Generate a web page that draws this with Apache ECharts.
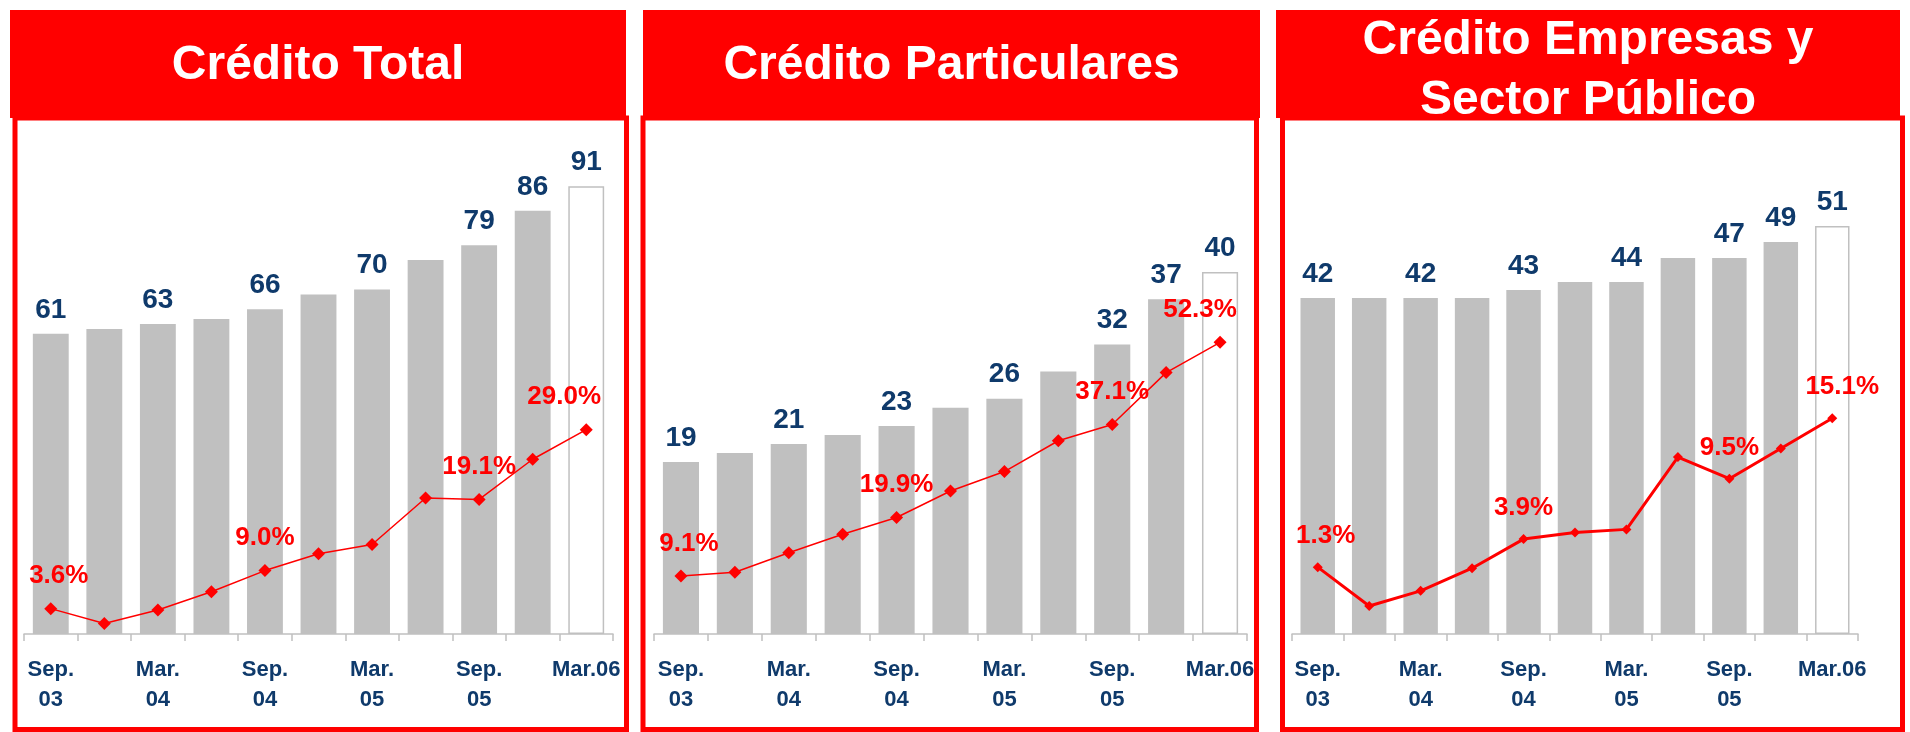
<!DOCTYPE html>
<html>
<head>
<meta charset="utf-8">
<script src="https://cdn.jsdelivr.net/npm/echarts@6/dist/echarts.min.js"></script>
<style>
    html, body { margin: 0; padding: 0; background: #fff; }
    #credit_chart { width: 1910px; height: 732px; }
</style>
</head>
<body>
<div id="credit_chart"></div>
<script>

// Data
var tickLabels = ['Sep.\n03', '', 'Mar.\n04', '', 'Sep.\n04', '', 'Mar.\n05', '', 'Sep.\n05', '', 'Mar.06'];
var panelTitles = ['Crédito Total', 'Crédito Particulares', 'Crédito Empresas y\nSector Público'];

var totalValues = [61, 62, 63, 64, 66, 69, 70, 76, 79, 86, 91];
var totalGrowth = [3.6, 1.5, 3.4, 6.0, 9.0, 11.4, 12.7, 19.3, 19.1, 24.8, 29.0];

var particularesValues = [19, 20, 21, 22, 23, 25, 26, 29, 32, 37, 40];
var particularesGrowth = [9.1, 9.8, 13.4, 16.8, 19.9, 24.8, 28.4, 34.1, 37.1, 46.7, 52.3];

var empresasValues = [42, 42, 42, 42, 43, 44, 44, 47, 47, 49, 51];
var empresasGrowth = [1.3, -2.3, -0.9, 1.2, 3.9, 4.5, 4.8, 11.5, 9.5, 12.3, 15.1];

// which bars / points carry a label
var labelledBars = [0, 2, 4, 6, 8, 9, 10];
var labelledPoints = [0, 4, 8, 10];

var EchartsCreditPanels = function() {

    var RED = '#ff0000';
    var NAVY = '#0f3a6b';
    var GREY = '#c0c0c0';
    var FONT = '"Liberation Sans", Arial, Helvetica, sans-serif';

    // layout of the three panels (pixels)
    var panels = [
        { title: panelTitles[0], values: totalValues, growth: totalGrowth,
          header: [10, 626], frame: [15, 626.5], grid: [24, 589], titleY: 66,
          barMax: 100.4, lineMin: 0, lineMax: 70.1, lineWidth: 1.5, symbolSize: 13, firstShift: 8, lastShift: -22 },
        { title: panelTitles[1], values: particularesValues, growth: particularesGrowth,
          header: [643, 1260], frame: [643, 1256.5], grid: [654, 593], titleY: 66,
          barMax: 54.6, lineMin: -1.63, lineMax: 89.7, lineWidth: 1.5, symbolSize: 13, firstShift: 8, lastShift: -20 },
        { title: panelTitles[2], values: empresasValues, growth: empresasGrowth,
          header: [1276, 1900], frame: [1282.5, 1902.5], grid: [1292, 566], titleY: 71,
          barMax: 61.75, lineMin: -4.9, lineMax: 40.9, lineWidth: 3, symbolSize: 10, firstShift: 8, lastShift: 10 }
    ];

    var _init = function(dom_id) {
        if (typeof echarts == 'undefined') {
            console.warn('Warning - echarts.min.js is not loaded.');
            return;
        }

        var element = document.getElementById(dom_id);
        if (!element) return;

        var chart = echarts.init(element);

        var grids = [], xAxes = [], yAxes = [], series = [], graphics = [];

        panels.forEach(function(p, i) {

            // frame + red header
            graphics.push({
                type: 'rect', z: 1,
                shape: { x: p.frame[0], y: 118, width: p.frame[1] - p.frame[0], height: 611.5 },
                style: { fill: null, stroke: RED, lineWidth: 5 }
            });
            graphics.push({
                type: 'rect', z: 2,
                shape: { x: p.header[0], y: 10, width: p.header[1] - p.header[0], height: 108 },
                style: { fill: RED }
            });
            graphics.push({
                type: 'text', z: 3,
                x: (p.header[0] + p.header[1]) / 2, y: p.titleY,
                style: {
                    text: p.title, fill: '#fff',
                    font: 'bold 48px ' + FONT, lineHeight: 60,
                    textAlign: 'center', textVerticalAlign: 'middle',
                    align: 'center', verticalAlign: 'middle'
                }
            });

            grids.push({ left: p.grid[0], width: p.grid[1], top: 140, height: 494 });

            xAxes.push({
                gridIndex: i,
                type: 'category',
                data: tickLabels,
                axisLine: { lineStyle: { color: GREY, width: 1.5 } },
                axisTick: { show: true, length: 7, lineStyle: { color: GREY, width: 1.5 } },
                axisLabel: {
                    interval: 0, margin: 21, lineHeight: 30,
                    color: NAVY, fontSize: 22, fontWeight: 'bold', fontFamily: FONT
                }
            });

            yAxes.push({ gridIndex: i, type: 'value', min: 0, max: p.barMax, show: false, splitLine: { show: false } });
            yAxes.push({ gridIndex: i, type: 'value', min: p.lineMin, max: p.lineMax, show: false, splitLine: { show: false } });

            var last = p.values.length - 1;

            // Bars
            series.push({
                type: 'bar',
                xAxisIndex: i,
                yAxisIndex: i * 2,
                barWidth: '67%',
                itemStyle: { color: GREY },
                label: {
                    show: true, position: 'top', distance: 10,
                    color: NAVY, fontSize: 28, fontWeight: 'bold', fontFamily: FONT,
                    formatter: function(params) {
                        return labelledBars.indexOf(params.dataIndex) >= 0 ? params.value : '';
                    }
                },
                data: p.values.map(function(v, k) {
                    if (k === last) {
                        return { value: v, itemStyle: { color: '#fff', borderColor: GREY, borderWidth: 1.5 } };
                    }
                    return v;
                })
            });

            // Growth line
            series.push({
                type: 'line',
                xAxisIndex: i,
                yAxisIndex: i * 2 + 1,
                z: 5,
                symbol: 'diamond',
                symbolSize: p.symbolSize,
                lineStyle: { color: RED, width: p.lineWidth },
                itemStyle: { color: RED },
                label: {
                    show: true, position: 'top', distance: 13,
                    color: RED, fontSize: 26, fontWeight: 'bold', fontFamily: FONT,
                    formatter: function(params) {
                        return labelledPoints.indexOf(params.dataIndex) >= 0 ? params.value.toFixed(1) + '%' : '';
                    }
                },
                data: p.growth.map(function(v, k) {
                    if (k === last) {
                        return { value: v, label: { offset: [p.lastShift, 0] } };
                    }
                    if (k === 0) {
                        return { value: v, label: { offset: [p.firstShift, 0] } };
                    }
                    return v;
                })
            });
        });

        var options = {
            animation: false,
            backgroundColor: '#fff',
            textStyle: { fontFamily: FONT },
            grid: grids,
            xAxis: xAxes,
            yAxis: yAxes,
            series: series,
            graphic: graphics
        };

        chart.setOption(options);
    };

    return {
        init: function(dom_id) {
            _init(dom_id);
        }
    };
}();

EchartsCreditPanels.init('credit_chart');
</script>
</body>
</html>
